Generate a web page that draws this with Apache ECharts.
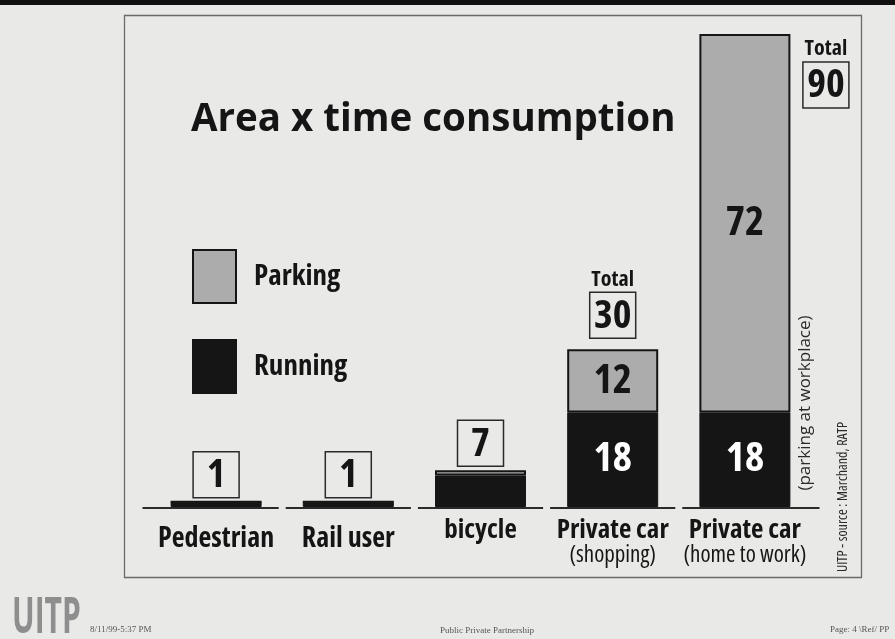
<!DOCTYPE html>
<html>
<head>
<meta charset="utf-8">
<script src="https://cdn.jsdelivr.net/npm/echarts@6/dist/echarts.min.js"></script>
<style>
  html, body { margin: 0; padding: 0; background: #e9e9e7; }
  #chart { width: 895px; height: 639px; }
</style>
</head>
<body>
<div id="chart"></div>
<script>
// ---- data ----
const categories = ['Pedestrian', 'Rail user', 'bicycle', 'Private car\n(shopping)', 'Private car\n(home to work)'];
const running = [1, 1, 6, 18, 18];
const parking = [0, 0, 1, 12, 72];
const totals = [1, 1, 7, 30, 90];
const titleText = 'Area x time consumption';

// ---- styles ----
const COND = 'condensed';
const F = "'Open Sans',sans-serif";
const INK = '#151515';
const GRAYFILL = '#acacac';

const chart = echarts.init(document.getElementById('chart'), null, { renderer: 'canvas' });

const boxRich = {
  t: { fontFamily: F, fontStyle: COND, fontWeight: 'bold', fontSize: 22, lineHeight: 24, color: INK, align: 'center', padding: [0, 0, 4, 0] },
  box: { fontFamily: F, fontStyle: COND, fontWeight: 'bold', fontSize: 40, color: INK, width: 44, height: 44, lineHeight: 44,
         align: 'center', verticalAlign: 'middle', borderColor: '#2a2a2a', borderWidth: 1.5, padding: [2, 1, 0, 1] }
};

const totalData = totals.map((v, i) => {
  const withHeader = v >= 10;
  const item = {
    value: [i, v],
    label: {
      formatter: withHeader ? '{t|Total}\n{box|' + v + '}' : '{box|' + v + '}',
      position: 'top',
      distance: withHeader ? 12 : 5
    }
  };
  if (i === categories.length - 1) {
    item.label.position = 'bottom';
    item.label.distance = 5;
    item.label.offset = [81, 0];
  }
  return item;
});

const option = {
  backgroundColor: '#e9e9e7',
  animation: false,
  grid: { left: 150, right: 84, top: 34, bottom: 132 },
  legend: {
    data: [
      { name: 'Parking', icon: 'rect', itemStyle: { color: GRAYFILL, borderColor: INK, borderWidth: 2 } },
      { name: 'Running', icon: 'rect', itemStyle: { color: INK } }
    ],
    orient: 'vertical', left: 192, top: 249, itemWidth: 43, itemHeight: 53, itemGap: 35, padding: 0,
    selectedMode: false,
    textStyle: { fontFamily: F, fontStyle: COND, fontWeight: 'bold', fontSize: 29, color: INK, padding: [0, 0, 0, 13] }
  },
  xAxis: {
    type: 'category',
    data: categories,
    axisLine: { show: false },
    axisTick: { show: false },
    axisLabel: {
      interval: 0,
      margin: 11,
      formatter: function (value, idx) {
        const parts = value.split('\n');
        if (parts.length > 1) return '{b|' + parts[0] + '}\n{n|' + parts[1] + '}';
        return idx < 2 ? '{p|' + value + '}' : '{b|' + value + '}';
      },
      rich: {
        p: { fontFamily: F, fontStyle: COND, fontWeight: 'bold', fontSize: 28, lineHeight: 27, color: INK, padding: [16, 0, 0, 0] },
        b: { fontFamily: F, fontStyle: COND, fontWeight: 'bold', fontSize: 27, lineHeight: 25, color: INK },
        n: { fontFamily: F, fontStyle: COND, fontWeight: 'normal', fontSize: 23, lineHeight: 24, color: INK }
      }
    }
  },
  yAxis: { type: 'value', min: 0, max: 90, show: false, splitLine: { show: false } },
  series: [
    {
      name: 'Running', type: 'bar', stack: 'all', barWidth: 91, data: running,
      itemStyle: { color: INK, borderColor: INK, borderWidth: 1 },
      label: {
        show: true, position: 'inside',
        formatter: p => (p.value >= 10 ? String(p.value) : ''),
        fontFamily: F, fontStyle: COND, fontWeight: 'bold', fontSize: 41, color: '#ffffff'
      }
    },
    {
      name: 'Parking', type: 'bar', stack: 'all', barWidth: 91, data: parking,
      itemStyle: { color: GRAYFILL, borderColor: INK, borderWidth: 2 },
      label: {
        show: true, position: 'inside',
        formatter: p => (p.value >= 10 ? String(p.value) : ''),
        fontFamily: F, fontStyle: COND, fontWeight: 'bold', fontSize: 41, color: INK
      }
    },
    {
      name: 'Total', type: 'scatter', data: totalData, symbolSize: 0,
      itemStyle: { color: INK, opacity: 1 }, silent: true, z: 5,
      label: { show: true, rich: boxRich, color: INK }
    },
    {
      name: 'Baseline', type: 'custom', silent: true, z: 4,
      data: categories.map((c, i) => [i, 0]),
      renderItem: function (params, api) {
        const p = api.coord([api.value(0), 0]);
        const bw = api.size([1, 0])[0];
        const idx = params.dataIndex;
        const x1 = p[0] - bw / 2 + 3.5 - (idx === 0 ? 11 : 0);
        const x2 = p[0] + bw / 2 - 3.5 + (idx === categories.length - 1 ? 12 : 0);
        return { type: 'line', shape: { x1: x1, y1: p[1] + 1, x2: x2, y2: p[1] + 1 },
                 style: { stroke: '#2a2a2a', lineWidth: 2 } };
      }
    }
  ],
  graphic: [
    { type: 'rect', shape: { x: 0, y: 0, width: 895, height: 5 }, style: { fill: '#111' }, z: -1 },
    { type: 'rect', shape: { x: 124.5, y: 15.5, width: 737, height: 562 }, style: { fill: 'none', stroke: '#6a6a6a', lineWidth: 1.3 }, z: -1 },
    { type: 'text', left: 191, top: 101, style: { text: titleText, font: 'bold 38.5px ' + F, fill: INK } },
    { type: 'text', x: 805, y: 403, rotation: Math.PI / 2,
      style: { text: '(parking at workplace)', font: '17px ' + F, fill: '#2a2a2a', textAlign: 'center', textVerticalAlign: 'middle' } },
    { type: 'text', x: 843, y: 497, rotation: Math.PI / 2,
      style: { text: 'UITP - source : Marchand, RATP', font: 'condensed 14px ' + F, fill: '#2a2a2a', textAlign: 'center', textVerticalAlign: 'middle' } },
    { type: 'text', x: 12, y: 594, scaleX: 0.6,
      style: { text: 'UITP', font: 'bold 50px ' + F, fill: '#8e8e8e' } },
    { type: 'text', x: 90, y: 625, style: { text: '8/11/99-5:37 PM', font: '9px "Liberation Serif",serif', fill: '#555' } },
    { type: 'text', x: 440, y: 626, style: { text: 'Public Private Partnership', font: '9px "Liberation Serif",serif', fill: '#555' } },
    { type: 'text', x: 830, y: 625, style: { text: 'Page: 4 \\Ref/ PP', font: '9px "Liberation Serif",serif', fill: '#555' } }
  ]
};

chart.setOption(option);
</script>
</body>
</html>
